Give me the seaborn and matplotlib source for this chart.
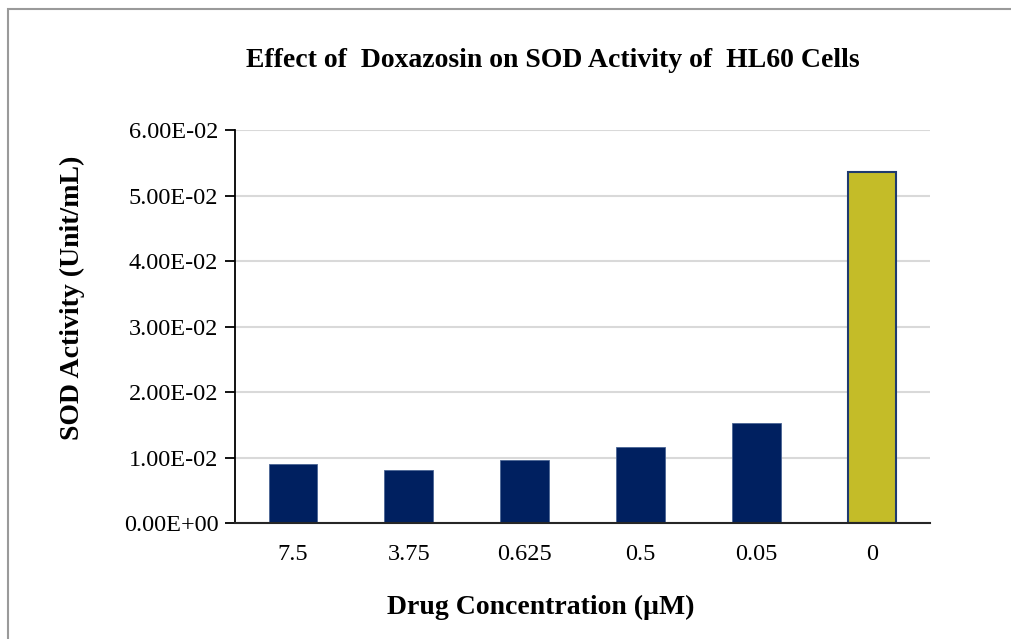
import matplotlib
matplotlib.use("Agg")
import matplotlib.pyplot as plt
import seaborn as sns
import pandas as pd
from matplotlib.patches import Rectangle

# Doxazosin concentrations (µM) and measured SOD activity (Unit/mL)
concentrations = ["7.5", "3.75", "0.625", "0.5", "0.05", "0"]
sod_activity = [0.00903, 0.00812, 0.00965, 0.01164, 0.01525, 0.0536]
y_ticks = [0.00, 0.01, 0.02, 0.03, 0.04, 0.05, 0.06]
y_tick_labels = ["0.00E+00", "1.00E-02", "2.00E-02", "3.00E-02",
                 "4.00E-02", "5.00E-02", "6.00E-02"]

navy = "#002060"
olive = "#c4bc28"
bar_colors = [navy] * 5 + [olive]

df = pd.DataFrame({"conc": concentrations, "sod": sod_activity})

sns.set_theme(style="white")
plt.rcParams["font.family"] = ["Liberation Serif", "DejaVu Serif"]

fig = plt.figure(figsize=(10.12, 6.39), dpi=100)
ax = fig.add_axes([0.2322, 0.1811, 0.6868, 0.6155])

sns.barplot(data=df, x="conc", y="sod", hue="conc", palette=bar_colors,
            legend=False, width=0.42, ax=ax, saturation=1)

for patch, c in zip(ax.patches, bar_colors):
    if c == olive:
        patch.set_edgecolor("#1f3a6e")
        patch.set_linewidth(1.5)
    else:
        patch.set_edgecolor("#4a6494")
        patch.set_linewidth(0.6)

ax.set_ylim(0, 0.06)
ax.set_xlim(-0.5, len(concentrations) - 0.5)
ax.set_yticks(y_ticks)
ax.set_yticklabels(y_tick_labels)
ax.yaxis.grid(True, color="#d9d9d9", linewidth=1.5)
ax.set_axisbelow(True)

for side in ["top", "right"]:
    ax.spines[side].set_visible(False)
ax.spines["left"].set_color("black")
ax.spines["left"].set_linewidth(1.3)
ax.spines["bottom"].set_color("#262626")
ax.spines["bottom"].set_linewidth(1.5)

ax.tick_params(axis="y", which="major", direction="out", length=7, width=1.3,
               color="black", left=True, labelsize=17.5, pad=5, labelcolor="black")
ax.tick_params(axis="x", length=0, labelsize=17.5, pad=15, labelcolor="black")

ax.set_xlabel("Drug Concentration (µM)", fontsize=20, fontweight="bold",
              color="black")
ax.set_ylabel("SOD Activity (Unit/mL)", fontsize=20, fontweight="bold",
              color="black")
ax.yaxis.set_label_coords(-0.2155, 0.574)
ax.xaxis.set_label_coords(0.44, -0.182)

fig.text(0.546, 0.906, "Effect of  Doxazosin on SOD Activity of  HL60 Cells",
         ha="center", va="center", fontsize=20, fontweight="bold", color="black")

# Chart area frame
fig.patches.append(Rectangle((0.0075, -0.01), 1.05, 0.996, transform=fig.transFigure,
                             fill=False, edgecolor="#9a9a9a", linewidth=1.5))

fig.savefig("out.png", dpi=100, facecolor="white")
